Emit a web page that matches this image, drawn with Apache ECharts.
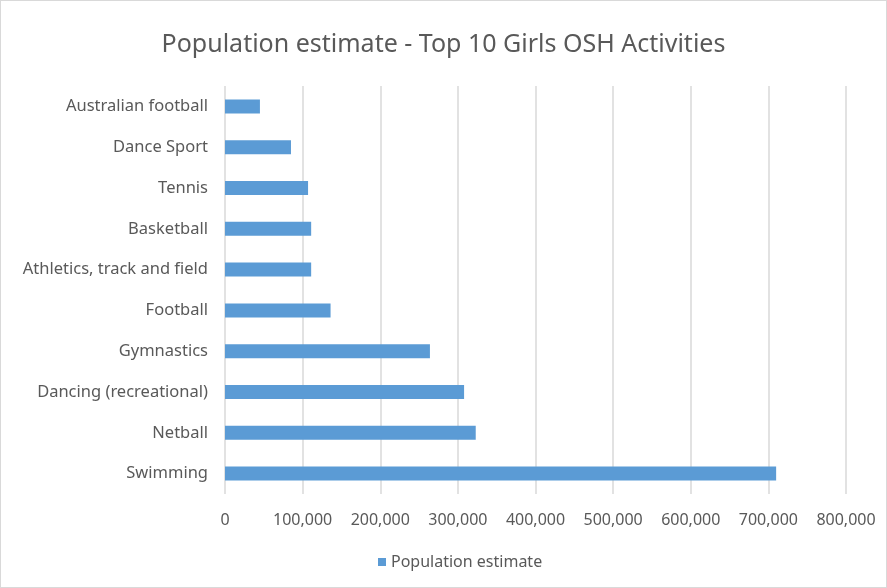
<!DOCTYPE html>
<html>
<head>
<meta charset="utf-8">
<script src="https://cdn.jsdelivr.net/npm/echarts@6/dist/echarts.min.js"></script>
<style>
  html, body { margin: 0; padding: 0; background: #fff; }
  #chart { width: 887px; height: 588px; box-sizing: border-box; border: 1px solid #d9d9d9; }
</style>
</head>
<body>
<div id="chart"></div>
<script>
// categories listed bottom to top (ECharts category axis runs upward)
const activities = ['Swimming', 'Netball', 'Dancing (recreational)', 'Gymnastics', 'Football',
    'Athletics, track and field', 'Basketball', 'Tennis', 'Dance Sport', 'Australian football']
const estimates = [710000, 323000, 308000, 264000, 136000, 111000, 111000, 107000, 85000, 45000]
const seriesName = 'Population estimate'

const font = 'Noto Sans'
const grey = '#595959'

const chart = echarts.init(document.getElementById('chart'))

chart.setOption({
    animation: false,
    title: {
        text: 'Population estimate - Top 10 Girls OSH Activities',
        left: 'center',
        top: 26,
        textStyle: { fontFamily: font, fontSize: 25, fontWeight: 'normal', color: grey }
    },
    legend: {
        bottom: 12,
        left: 372,
        icon: 'rect',
        itemWidth: 8,
        itemHeight: 8,
        itemGap: 6,
        textStyle: { fontFamily: font, fontSize: 16, color: grey }
    },
    grid: { left: 224, right: 40, top: 85, bottom: 93, containLabel: false },
    xAxis: {
        type: 'value',
        min: 0,
        max: 800000,
        interval: 100000,
        axisLine: { show: false },
        axisTick: { show: false },
        splitLine: { lineStyle: { color: '#d9d9d9', width: 1.5 } },
        axisLabel: {
            margin: 18,
            fontFamily: font, fontSize: 16, color: grey,
            formatter: v => v.toLocaleString('en-US')
        }
    },
    yAxis: {
        type: 'category',
        data: activities,
        axisLine: { show: false },
        axisTick: { show: false },
        axisLabel: { margin: 17, fontFamily: font, fontSize: 16.5, color: grey }
    },
    series: [{
        name: seriesName,
        type: 'bar',
        data: estimates,
        barWidth: 14,
        itemStyle: { color: '#5b9bd5' }
    }]
})
</script>
</body>
</html>
